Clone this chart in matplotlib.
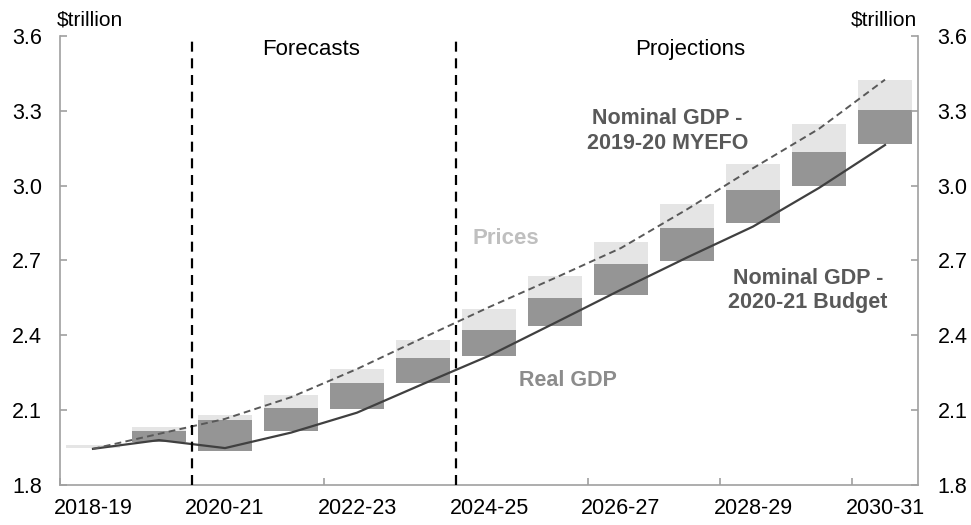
import matplotlib
matplotlib.use("Agg")
import matplotlib.pyplot as plt
import numpy as np

plt.rcParams['font.family'] = ['Liberation Sans', 'DejaVu Sans']

years = ['2018-19', '2019-20', '2020-21', '2021-22', '2022-23', '2023-24', '2024-25',
         '2025-26', '2026-27', '2027-28', '2028-29', '2029-30', '2030-31']
bar_base = [1.950, 1.972, 1.935, 2.015, 2.103, 2.208, 2.318, 2.439, 2.560, 2.698, 2.850, 3.000, 3.169]
real_gdp = [0.000, 0.043, 0.127, 0.095, 0.104, 0.101, 0.105, 0.111, 0.125, 0.132, 0.134, 0.135, 0.136]
prices = [0.011, 0.016, 0.017, 0.049, 0.057, 0.074, 0.081, 0.089, 0.091, 0.096, 0.104, 0.112, 0.117]
nominal_budget = [1.945, 1.980, 1.948, 2.010, 2.090, 2.205, 2.318, 2.450, 2.583, 2.712, 2.836, 2.991, 3.163]
nominal_myefo = [1.945, 2.005, 2.065, 2.152, 2.265, 2.390, 2.513, 2.630, 2.750, 2.905, 3.070, 3.228, 3.425]
yticks = [1.8, 2.1, 2.4, 2.7, 3.0, 3.3, 3.6]

fig = plt.figure(figsize=(9.71, 5.25), dpi=100)
ax = fig.add_axes([60/971, 40/525, 858/971, 449/525])
x = np.arange(len(years))

dark = '#959595'
light = '#E5E5E5'
ax.bar(x, real_gdp, bottom=bar_base, width=0.83, color=dark, zorder=2)
top_dark = np.array(bar_base) + np.array(real_gdp)
ax.bar(x, prices, bottom=top_dark, width=0.83, color=light, zorder=2)

ax.plot(x, nominal_budget, color='#404040', lw=1.6, zorder=4)
ax.plot(x, nominal_myefo, color='#595959', lw=1.4, ls=(0, (3.5, 2.2)), zorder=4)

for xv in [1.5, 5.5]:
    ax.axvline(xv, color='black', lw=1.6, ls=(0, (4.5, 3)), zorder=5)

ax.set_xlim(-0.5, len(years) - 0.5)
ax.set_ylim(1.8, 3.6)
ax.set_yticks(yticks)
ax.set_yticklabels([f'{v:.1f}' for v in yticks])
ax.set_xticks(x[::2])
ax.set_xticklabels(years[::2])
ax.set_xticks(np.arange(-0.5, len(years), 2), minor=True)

gray = '#A0A0A0'
for s in ['left', 'right', 'bottom']:
    ax.spines[s].set_color(gray)
    ax.spines[s].set_linewidth(1.2)
ax.spines['top'].set_visible(False)

ax.tick_params(axis='x', which='major', length=0, pad=9, labelsize=15.5, colors='black')
ax.tick_params(axis='x', which='minor', length=5, direction='in', color=gray, width=1.2)
ax.tick_params(axis='y', which='major', length=5, direction='in', color=gray, width=1.2,
               pad=13, labelsize=15.5, labelcolor='black')

ax2 = ax.twinx()
ax2.set_ylim(1.8, 3.6)
ax2.set_yticks(yticks)
ax2.set_yticklabels([f'{v:.1f}' for v in yticks])
ax2.tick_params(axis='y', length=5, direction='in', color=gray, width=1.2, pad=14,
                labelsize=15.5, labelcolor='black')
for s in ['left', 'right', 'bottom', 'top']:
    ax2.spines[s].set_visible(False)

fig.text(57/971, 1 - 20/525, '$trillion', fontsize=15, ha='left', va='center')
fig.text(917/971, 1 - 20/525, '$trillion', fontsize=15, ha='right', va='center')

ax.text(3.3, 3.545, 'Forecasts', fontsize=16, ha='center', va='center')
ax.text(9.05, 3.545, 'Projections', fontsize=16, ha='center', va='center')

ax.text(8.7, 3.22, 'Nominal GDP -\n2019-20 MYEFO', fontsize=15.5, fontweight='bold',
        color='#595959', ha='center', va='center', linespacing=1.22)
ax.text(10.83, 2.58, 'Nominal GDP -\n2020-21 Budget', fontsize=15.5, fontweight='bold',
        color='#595959', ha='center', va='center', linespacing=1.22)
ax.text(6.25, 2.789, 'Prices', fontsize=16, fontweight='bold', color='#BFBFBF',
        ha='center', va='center')
ax.text(7.2, 2.22, 'Real GDP', fontsize=15.5, fontweight='bold', color='#8C8C8C',
        ha='center', va='center')

fig.savefig('out.png', dpi=100)
